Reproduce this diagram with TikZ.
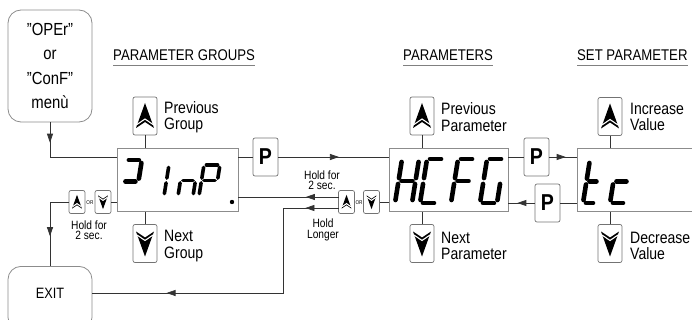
\documentclass[tikz,border=0pt]{standalone}
\usepackage{fontspec}
\setmainfont{Liberation Sans}[FakeStretch=0.85]
\usetikzlibrary{arrows.meta, decorations.markings}

\tikzset{
  box/.style={draw=black!45, line width=0.8pt, rounded corners=13pt, minimum width=84pt, align=center, font=\fontsize{17.5}{24.5}\selectfont},
  display/.style={draw=black!45, line width=0.8pt, minimum height=63pt},
  btn/.style={draw=black!55, line width=0.7pt, rounded corners=2pt, minimum width=24pt, minimum height=38pt, inner sep=0pt},
  smallbtn/.style={btn, minimum width=16pt, minimum height=23pt},
  pbtn/.style={btn, minimum width=25pt, font=\fontsize{23}{23}\selectfont\bfseries},
  flow/.style={draw=black!80, line width=0.75pt},
  midarrow/.style={postaction={decorate}, decoration={markings, mark=at position #1 with {\arrow{Triangle[length=9pt, width=6pt]}}}},
  midarrow/.default=0.5,
  lbl/.style={font=\fontsize{16.5}{16.5}\selectfont, align=left, anchor=west, inner sep=0pt},
  note/.style={font=\fontsize{12}{10.5}\selectfont, align=center, inner sep=0pt},
  ornote/.style={font=\fontsize{5.5}{5.5}\selectfont, inner sep=0pt},
  head/.style={font=\fontsize{15.5}{15.5}\selectfont, inner sep=0pt, text depth=4pt, anchor=base west},
  bigseg/.style={line width=4.6pt, line cap=round, shorten <=3pt, shorten >=3pt},
  smallseg/.style={line width=3.6pt, line cap=round, shorten <=2.4pt, shorten >=2.4pt},
  upicon/.pic={
    \fill (-9,12) -- (0,-13) -- (9,12) -- (0,6) -- cycle;
    \draw[white, line width=1.1pt] (-8,8.5) -- (0,3) -- (8,8.5);
  },
}

% seven segment digit: style, x, y (bottom left), width, height, segments
\newcommand{\dsega}{\draw[seg] (0,1) -- (1,1);}
\newcommand{\dsegb}{\draw[seg] (1,1) -- (1,.5);}
\newcommand{\dsegc}{\draw[seg] (1,.5) -- (1,0);}
\newcommand{\dsegd}{\draw[seg] (0,0) -- (1,0);}
\newcommand{\dsege}{\draw[seg] (0,0) -- (0,.5);}
\newcommand{\dsegf}{\draw[seg] (0,.5) -- (0,1);}
\newcommand{\dsegg}{\draw[seg] (0,.5) -- (1,.5);}
\newcommand{\segdigit}[6]{%
  \begin{scope}[shift={(#2,#3)}, xslant=0.16, x=#4pt, y=#5pt, seg/.style={#1}]
    \foreach \s in {#6} {\csname dseg\s\endcsname}
  \end{scope}}

\begin{document}
\begin{tikzpicture}[x=1pt, y=-1pt]
  \useasboundingbox (0,0) rectangle (692,320);

  % headings
  \node[head] (hgroups) at (113,61) {PARAMETER GROUPS};
  \node[head] (hparams) at (403,61) {PARAMETERS};
  \node[head] (hset) at (577,61) {SET PARAMETER};
  \draw[black!50, line width=0.8pt] (hgroups.south west) -- (hgroups.south east);
  \draw[black!50, line width=0.8pt] (hparams.south west) -- (hparams.south east);
  \draw[black!50, line width=0.8pt] (hset.south west) -- (hset.south east);

  % menu and exit
  \node[box, minimum height=112pt] (menu) at (50,66) {"OPEr"\\or\\"ConF"\\menù};
  \node[box, minimum height=64pt, text height=8pt, text depth=8pt, anchor=north, font=\fontsize{15}{15}\selectfont] (exitbox) at (50,266) {EXIT};

  % displays
  \node[display, minimum width=121pt] (disp1) at (177.5,180) {};
  \node[display, minimum width=119pt] (disp2) at (448.5,180) {};
  \node[display, minimum width=133pt] (disp3) at (643.5,180) {};

  % up / down buttons
  \node[btn] (ug) at (145,116) {};
  \node[btn] (dg) at (145,243.5) {};
  \node[btn] (up) at (422,116) {};
  \node[btn] (dp) at (422,243.5) {};
  \node[btn] (uv) at (610,116.5) {};
  \node[btn] (dv) at (610,243.5) {};
  \foreach \b in {ug, up, uv} {\pic at (\b) {upicon};}
  \foreach \b in {dg, dp, dv} {\pic[rotate=180] at (\b) {upicon};}

  \node[lbl] (lug) at (164,117) {Previous\\Group};
  \node[lbl] (ldg) at (164,246) {Next\\Group};
  \node[lbl] (lup) at (441,117) {Previous\\Parameter};
  \node[lbl] (ldp) at (441,246) {Next\\Parameter};
  \node[lbl] (luv) at (630,117) {Increase\\Value};
  \node[lbl] (ldv) at (630,246) {Decrease\\Value};

  % P buttons
  \node[pbtn] (p1) at (265.5,157) {P};
  \node[pbtn] (p2) at (536.5,157) {P};
  \node[pbtn] (p3) at (547.5,203) {P};

  % small buttons
  \node[smallbtn] (sg1) at (77,202) {};
  \node[smallbtn] (sg2) at (103,202) {};
  \node[smallbtn] (sm1) at (346.5,202) {};
  \node[smallbtn] (sm2) at (371.5,202) {};
  \foreach \b in {sg1, sm1} {\pic[scale=0.55] at (\b) {upicon};}
  \foreach \b in {sg2, sm2} {\pic[scale=0.55, rotate=180] at (\b) {upicon};}
  \node[ornote] (or1) at (90,203) {OR};
  \node[ornote] (or2) at (359,203) {OR};

  \node[note] (hold1) at (89,230) {Hold for\\2 sec.};
  \node[note] (hold2) at (322,180) {Hold for\\2 sec.};
  \node[note] (hold3) at (323,230) {Hold\\Longer};

  % display contents
  \segdigit{bigseg}{119}{203}{16}{43}{a,b,g}
  \segdigit{smallseg}{164}{196}{15}{31}{e,f}
  \segdigit{smallseg}{178}{196}{15}{31}{c,e,g}
  \segdigit{smallseg}{199}{196}{16}{31}{a,b,e,f,g}
  \fill (232,202) circle (2.2pt);
  \segdigit{bigseg}{395}{203}{17}{44}{b,c,e,f,g}
  \segdigit{bigseg}{420}{203}{17}{44}{a,d,e,f}
  \segdigit{bigseg}{451}{203}{17}{44}{a,e,f,g}
  \segdigit{bigseg}{480}{203}{17}{44}{a,c,d,e,f}
  \segdigit{bigseg}{583}{203}{13}{43}{d,e,f,g}
  \segdigit{bigseg}{610}{203}{16}{43}{d,e,g}

  % connection points
  \coordinate (d1in) at (117,157);
  \coordinate (s1a) at (339,197);
  \coordinate (s1b) at (339,208);
  \coordinate (s1c) at (283,208);
  \coordinate (ex1) at (92,293);

  % connectors
  \draw[flow, midarrow=0.2] (menu.south) |- (d1in);
  \draw[flow] (p1.west -| disp1.east) -- (p1.west);
  \draw[flow, midarrow=0.55] (p1.east) -- (p1.east -| disp2.west);
  \draw[flow] (p2.west -| disp2.east) -- (p2.west);
  \draw[flow, midarrow=0.6] (p2.east) -- (p2.east -| disp3.west);
  \draw[flow] (p3.east -| disp3.west) -- (p3.east);
  \draw[flow, midarrow=0.66] (p3.west) -- (p3.west -| disp2.east);
  \draw[flow] (sm2.east) -- (sm2.east -| disp2.west);
  \draw[flow, midarrow=0.33] (s1a) -- (s1a -| disp1.east);
  \draw[flow, midarrow=0.6] (s1b) -- (s1c);
  \draw[flow, midarrow=0.73] (s1c) |- (ex1);
  \draw[flow] (sg2.east) -- (sg2.east -| disp1.west);
  \draw[flow, midarrow=0.64] (sg1.west) -| (exitbox.north);
  \foreach \b/\d in {ug/disp1, up/disp2, uv/disp3} {\draw[flow] (\b.south) -- (\b.south |- \d.north);}
  \foreach \b/\d in {dg/disp1, dp/disp2, dv/disp3} {\draw[flow] (\b.north) -- (\b.north |- \d.south);}
\end{tikzpicture}
\end{document}
